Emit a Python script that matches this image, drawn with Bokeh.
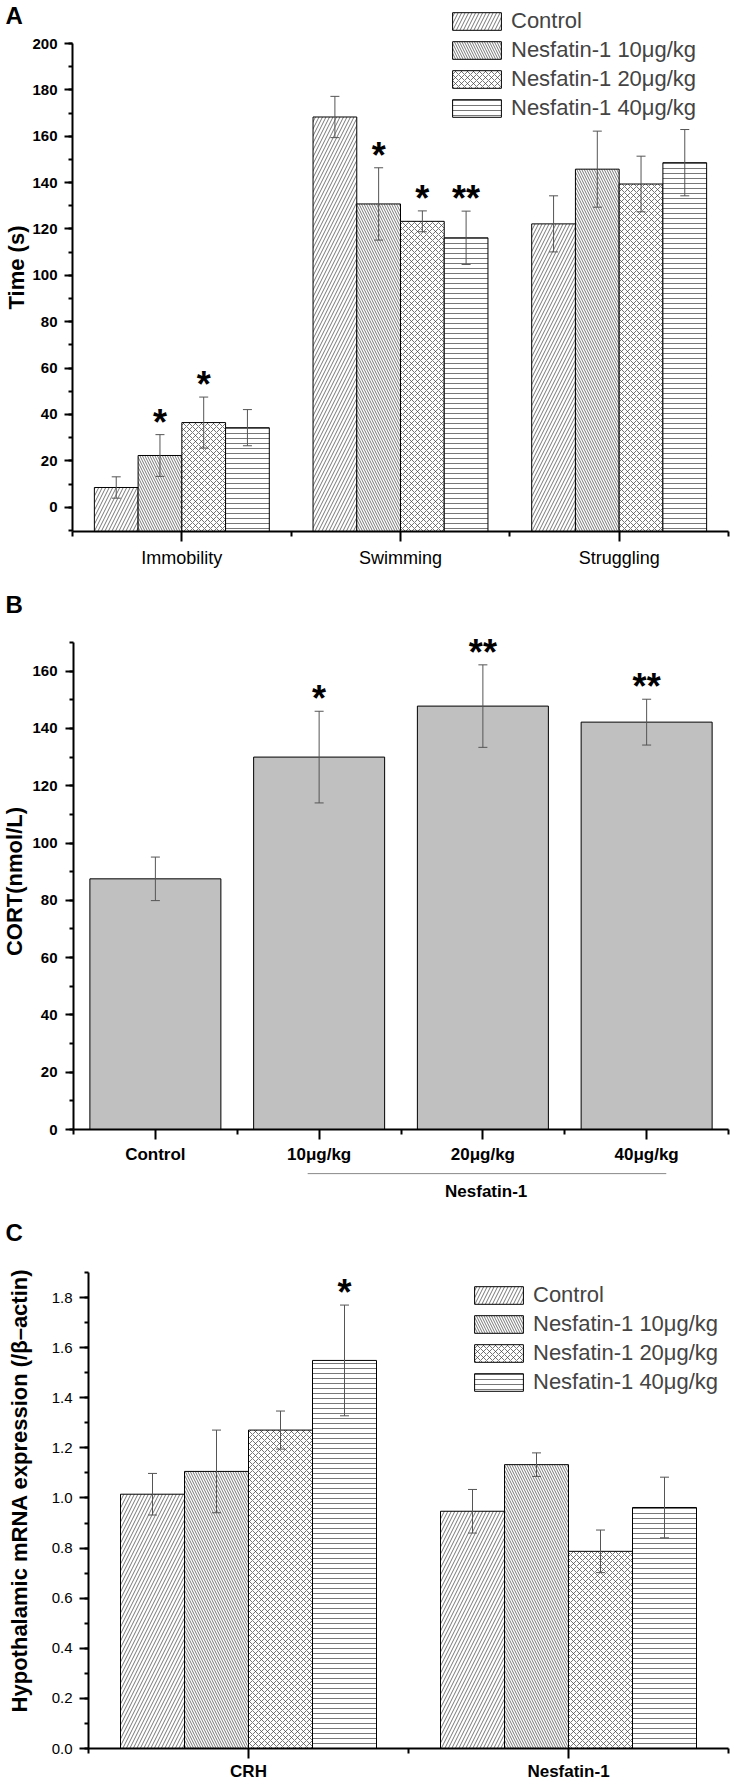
import numpy as np
from bokeh.plotting import figure
from bokeh.models import (ColumnDataSource, FixedTicker, Legend, LegendItem, Label,
                          Range1d, LinearAxis)
from bokeh.core.properties import value
from bokeh.embed import file_html
from bokeh.resources import INLINE

# ---------------- data ----------------
series_names = ["Control", "Nesfatin-1 10μg/kg", "Nesfatin-1 20μg/kg", "Nesfatin-1 40μg/kg"]

# Panel A : forced swim test behaviour (s)
a_tests = ["Immobility", "Swimming", "Struggling"]
a_control = [8.5, 168.3, 122.2]
a_control_err = [4.6, 8.9, 12.1]
a_n10 = [22.3, 130.8, 145.8]
a_n10_err = [9.0, 15.6, 16.4]
a_n20 = [36.5, 123.3, 139.4]
a_n20_err = [11.0, 4.5, 12.0]
a_n40 = [34.3, 116.2, 148.6]
a_n40_err = [7.8, 11.5, 14.3]
a_sig_control = ["", "", ""]
a_sig_n10 = ["*", "*", ""]
a_sig_n20 = ["*", "*", ""]
a_sig_n40 = ["", "**", ""]
a_yticks = [0, 20, 40, 60, 80, 100, 120, 140, 160, 180, 200]

# Panel B : serum CORT (nmol/L)
b_groups = ["Control", "10μg/kg", "20μg/kg", "40μg/kg"]
b_cort = [87.5, 130.0, 147.8, 142.2]
b_cort_err = [7.6, 16.0, 14.4, 8.0]
b_sig = ["", "*", "**", "**"]
b_group_label = "Nesfatin-1"
b_yticks = [0, 20, 40, 60, 80, 100, 120, 140, 160]

# Panel C : hypothalamic mRNA expression (/beta-actin)
c_genes = ["CRH", "Nesfatin-1"]
c_control = [1.015, 0.947]
c_control_err = [0.083, 0.087]
c_n10 = [1.106, 1.133]
c_n10_err = [0.165, 0.047]
c_n20 = [1.271, 0.787]
c_n20_err = [0.076, 0.085]
c_n40 = [1.549, 0.962]
c_n40_err = [0.221, 0.121]
c_sig_control = ["", ""]
c_sig_n10 = ["", ""]
c_sig_n20 = ["", ""]
c_sig_n40 = ["*", ""]
c_yticks = [0.0, 0.2, 0.4, 0.6, 0.8, 1.0, 1.2, 1.4, 1.6, 1.8]

# ---------------- layout / styles ----------------
W, H = 733, 1780
FONT = "Liberation Sans"
HATCH = ["/", "\\", "x", "-"]
HSCALE = [7, 5, 6, 5]
ERR_COLOR = "#555555"


def xrange_from(px0, px1, u0, u1):
    s = (px1 - px0) / (u1 - u0)
    return Range1d(u0 - px0 / s, u0 + (W - px0) / s)


def yrange_from(py0, py1, v0, v1):
    s = (py0 - py1) / (v1 - v0)
    return Range1d(v0 - (H - py0) / s, v0 + py0 / s)


def PY(y):  # page pixel (from top) -> bottom-up pixel coordinate of default range
    return H - y


p = figure(width=W, height=H, x_range=Range1d(0, W), y_range=Range1d(0, H),
           x_axis_location=None, y_axis_location=None,
           output_backend="svg", toolbar_location=None, min_border=0)
p.outline_line_color = None
p.xgrid.visible = False
p.ygrid.visible = False
p.background_fill_color = "white"
p.border_fill_color = "white"

p.extra_x_ranges = {
    "xA": xrange_from(72, 728, 0, 3),
    "xB": xrange_from(73, 728, -0.5, 3.5),
    "xC": xrange_from(88, 728, 0, 2),
}
p.extra_y_ranges = {
    "yA": yrange_from(506.7, 43, 0, 200),
    "yB": yrange_from(1129, 642, 0, 170),
    "yC": yrange_from(1748, 1272, 0, 1.9),
}


def style_axis(ax, out, minor_out, size, bold, standoff):
    ax.axis_line_width = 2
    ax.axis_line_color = "black"
    ax.major_tick_line_width = 2
    ax.minor_tick_line_width = 2
    ax.major_tick_in = 0
    ax.minor_tick_in = 0
    ax.major_tick_out = out
    ax.minor_tick_out = minor_out
    ax.major_label_text_color = "black"
    ax.major_label_text_font = FONT
    ax.major_label_text_font_size = size
    ax.major_label_text_font_style = "bold" if bold else "normal"
    ax.major_label_standoff = standoff


def add_axes(xr, yr, xb, yb, xticks, xminor, xlabels, yticks, yminor, ylabels,
             xsize, xbold, xstand, ysize, ybold, ystand, ytick_out=8):
    yax = LinearAxis(x_range_name=xr, y_range_name=yr, fixed_location=xb[0], bounds=yb,
                     ticker=FixedTicker(ticks=yticks, minor_ticks=yminor))
    yax.major_label_overrides = ylabels
    style_axis(yax, ytick_out, 4, ysize, ybold, ystand)
    p.add_layout(yax, "left")
    xax = LinearAxis(x_range_name=xr, y_range_name=yr, fixed_location=yb[0], bounds=xb,
                     ticker=FixedTicker(ticks=xticks, minor_ticks=xminor))
    xax.major_label_overrides = xlabels
    style_axis(xax, 10, 5, xsize, xbold, xstand)
    p.add_layout(xax, "below")


def error_bars(src, xr, yr):
    p.segment(x0="x", y0="lower", x1="x", y1="upper", source=src, line_color=ERR_COLOR,
              line_width=1, x_range_name=xr, y_range_name=yr)
    for col in ("upper", "lower"):
        p.scatter(x="x", y=col, source=src, marker="dash", size=9, line_color=ERR_COLOR,
                  line_width=1, x_range_name=xr, y_range_name=yr)


def stars(src, xr, yr):
    p.text(x="x", y="upper", text="sig", source=src, text_align="center",
           text_baseline="bottom", y_offset=8, text_font=value(FONT),
           text_font_style="bold", text_font_size="36px", text_color="black",
           x_range_name=xr, y_range_name=yr)


def grouped_bars(vals, errs, sigs, bottom, xr, yr):
    items = []
    for k in range(4):
        n = len(vals[k])
        xs = [i + 0.2 + 0.2 * k for i in range(n)]
        up = [v + e for v, e in zip(vals[k], errs[k])]
        lo = [v - e for v, e in zip(vals[k], errs[k])]
        src = ColumnDataSource(dict(x=xs, top=vals[k], upper=up, lower=lo, sig=sigs[k]))
        r = p.vbar(x="x", top="top", bottom=bottom, width=0.2, source=src,
                   fill_color="white", line_color="black", line_width=1,
                   hatch_pattern=HATCH[k], hatch_scale=HSCALE[k],
                   hatch_color="#3c3c3c", hatch_weight=0.7,
                   x_range_name=xr, y_range_name=yr)
        error_bars(src, xr, yr)
        stars(src, xr, yr)
        items.append(LegendItem(label=series_names[k], renderers=[r]))
    return items


def add_legend(items, left, bottom):
    leg = Legend(items=items, location=(left, bottom), padding=0, margin=0, spacing=3,
                 glyph_width=61, glyph_height=22, label_standoff=4,
                 label_text_font=FONT, label_text_font_size="22px",
                 border_line_color=None, background_fill_alpha=0)
    p.add_layout(leg)


def text_label(x, y, text, size, bold=True, angle=0.0, align="center", baseline="middle",
               xr="default", yr="default"):
    p.add_layout(Label(x=x, y=y, text=text, angle=angle, text_align=align,
                       text_baseline=baseline, text_font=FONT, text_font_size=size,
                       text_font_style="bold" if bold else "normal", text_color="black",
                       x_range_name=xr, y_range_name=yr))


# ---------------- Panel A ----------------
add_axes("xA", "yA", (0, 3), (-10.5, 200),
         [i + 0.5 for i in range(len(a_tests))], list(range(len(a_tests) + 1)),
         {i + 0.5: t for i, t in enumerate(a_tests)},
         a_yticks, list(range(-10, 201, 10)), {},
         "18px", False, 6, "15px", True, 7)
itemsA = grouped_bars([a_control, a_n10, a_n20, a_n40],
                      [a_control_err, a_n10_err, a_n20_err, a_n40_err],
                      [a_sig_control, a_sig_n10, a_sig_n20, a_sig_n40], -10.5, "xA", "yA")
add_legend(itemsA, 446, PY(121))
text_label(15.5, PY(267), "Time (s)", "22px", angle=np.pi / 2)
text_label(5, PY(15), "A", "24px", align="left")

# ---------------- Panel B ----------------
add_axes("xB", "yB", (-0.5, 3.5), (0, 170),
         list(range(len(b_groups))), [i - 0.5 for i in range(len(b_groups) + 1)],
         {i: g for i, g in enumerate(b_groups)},
         b_yticks, list(range(0, 171, 10)), {},
         "17px", True, 5, "15px", True, 8)
srcB = ColumnDataSource(dict(x=list(range(len(b_groups))), top=b_cort,
                             upper=[v + e for v, e in zip(b_cort, b_cort_err)],
                             lower=[v - e for v, e in zip(b_cort, b_cort_err)], sig=b_sig))
p.vbar(x="x", top="top", bottom=0, width=0.8, source=srcB, fill_color="#c0c0c0",
       line_color="black", line_width=1, x_range_name="xB", y_range_name="yB")
error_bars(srcB, "xB", "yB")
stars(srcB, "xB", "yB")
p.segment(x0=[0.93], y0=[-15.4], x1=[3.12], y1=[-15.4], line_color="#888888", line_width=1,
          x_range_name="xB", y_range_name="yB")
text_label(2.02, -21.8, b_group_label, "17px", xr="xB", yr="yB")
text_label(14, PY(881), "CORT(nmol/L)", "22px", angle=np.pi / 2)
text_label(5, PY(604), "B", "24px", align="left")

# ---------------- Panel C ----------------
add_axes("xC", "yC", (0, 2), (0, 1.9),
         [i + 0.5 for i in range(len(c_genes))], list(range(len(c_genes) + 1)),
         {i + 0.5: g for i, g in enumerate(c_genes)},
         c_yticks, [i / 10 for i in range(0, 20)], {t: f"{t:.1f}" for t in c_yticks},
         "17px", True, 3, "15px", False, 7, ytick_out=9)
itemsC = grouped_bars([c_control, c_n10, c_n20, c_n40],
                      [c_control_err, c_n10_err, c_n20_err, c_n40_err],
                      [c_sig_control, c_sig_n10, c_sig_n20, c_sig_n40], 0, "xC", "yC")
add_legend(itemsC, 468, PY(1394.5))
text_label(18.5, PY(1490), "Hypothalamic mRNA expression (/β–actin)", "22px", angle=np.pi / 2)
text_label(5, PY(1232), "C", "24px", align="left")

open("out.html", "w").write(file_html(p, INLINE, "Nesfatin-1 figure"))
